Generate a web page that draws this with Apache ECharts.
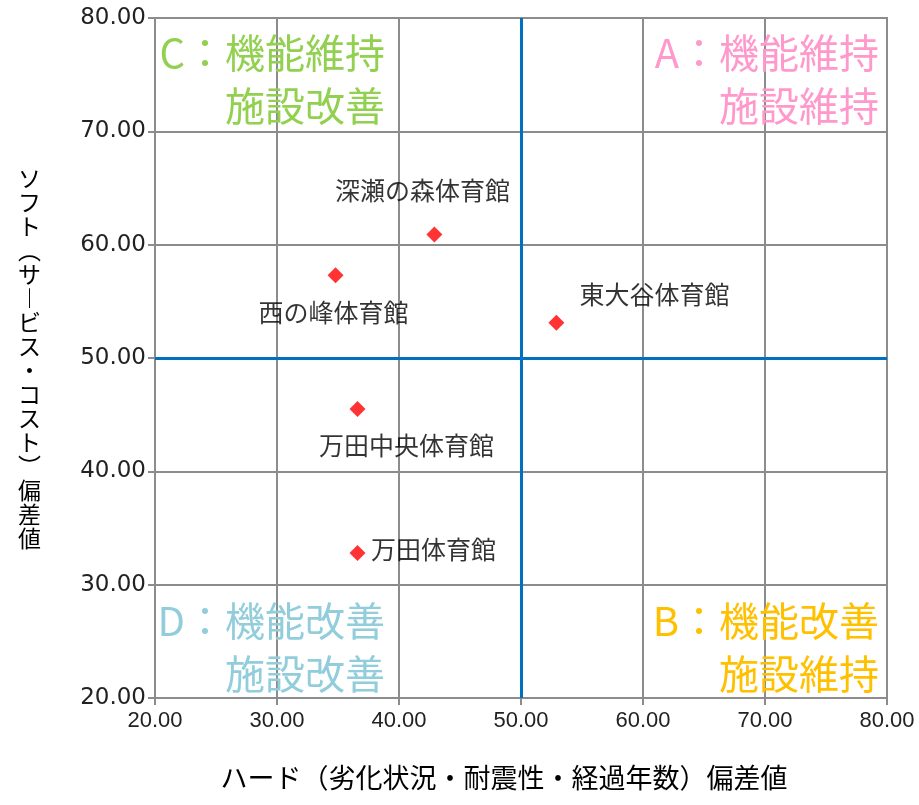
<!DOCTYPE html>
<html>
<head>
<meta charset="utf-8">
<script src="https://cdn.jsdelivr.net/npm/echarts@6/dist/echarts.min.js"></script>
<style>
html,body{margin:0;padding:0;background:#fff;}
#main{width:919px;height:805px;}
</style>
</head>
<body>
<div id="main"></div>
<script>
// Data
const facilities = ['深瀬の森体育館', '西の峰体育館', '東大谷体育館', '万田中央体育館', '万田体育館'];
const hardScores = [42.9, 34.8, 52.9, 36.6, 36.6];
const softScores = [60.9, 57.3, 53.1, 45.5, 32.8];
const axisMin = 20, axisMax = 80, axisStep = 10;
const threshold = 50;
const xAxisTitle = 'ハード（劣化状況・耐震性・経過年数）偏差値';
const yAxisTitle = ['ソ','フ','ト','︵','サ','︱','ビ','ス','・','コ','ス','ト','︶','偏','差','値'];
const quadrantA = ['A：機能維持', '施設維持'];
const quadrantB = ['B：機能改善', '施設維持'];
const quadrantC = ['C：機能維持', '施設改善'];
const quadrantD = ['D：機能改善', '施設改善'];

// label placement (styling)
const labelOffsets = [[-12, -44], [-2, 37], [98, -28], [49, 36], [76, -3]];

const points = facilities.map((n, i) => ({
  value: [hardScores[i], softScores[i]],
  name: n,
  label: { offset: labelOffsets[i] }
}));

const chart = echarts.init(document.getElementById('main'));
const gridColor = '#8c8c8c';
const qFont = '"Noto Sans CJK JP", sans-serif';

function quad(lines, xRight, yCenter, color) {
  return lines.map((t, i) => ({
    type: 'text', x: xRight, y: yCenter + i * 53, z: 10,
    style: {
      text: t, fill: color, font: '40px ' + qFont,
      align: 'right', verticalAlign: 'middle'
    }
  }));
}

chart.setOption({
  animation: false,
  backgroundColor: '#fff',
  grid: { left: 155, right: 32, top: 18, bottom: 107, show: true, borderColor: gridColor, borderWidth: 2 },
  xAxis: {
    type: 'value', min: axisMin, max: axisMax, interval: axisStep,
    name: xAxisTitle, nameLocation: 'middle', nameGap: 66,
    nameTextStyle: { fontSize: 27, color: '#000', fontFamily: qFont, padding: [0, 34, 0, 0] },
    axisLine: { show: true, lineStyle: { color: gridColor, width: 2 } },
    axisTick: { show: true, length: 7, lineStyle: { color: gridColor, width: 2 } },
    axisLabel: { formatter: v => v.toFixed(2), fontSize: 22, color: '#222', fontFamily: 'Liberation Sans', margin: 12 },
    splitLine: { show: true, lineStyle: { color: gridColor, width: 2 } }
  },
  yAxis: {
    type: 'value', min: axisMin, max: axisMax, interval: axisStep,
    name: yAxisTitle.join('\n'), nameLocation: 'middle', nameGap: 114, nameRotate: 0,
    nameTextStyle: { fontSize: 23, lineHeight: 24, color: '#000', fontFamily: qFont },
    axisLine: { show: true, lineStyle: { color: gridColor, width: 2 } },
    axisTick: { show: true, length: 7, lineStyle: { color: gridColor, width: 2 } },
    axisLabel: { formatter: v => v.toFixed(2), fontSize: 23, color: '#222', fontFamily: 'DejaVu Sans', margin: 9 },
    splitLine: { show: true, lineStyle: { color: gridColor, width: 2 } }
  },
  graphic: [].concat(
    quad(quadrantC, 385, 53, '#92D050'),
    quad(quadrantA, 879, 53, '#FF99CC'),
    quad(quadrantD, 385, 621, '#92CDDC'),
    quad(quadrantB, 879, 621, '#FFC000')
  ),
  series: [{
    type: 'scatter',
    symbol: 'diamond',
    symbolSize: 16,
    itemStyle: { color: '#FF0000' },
    data: points,
    label: {
      show: true, position: 'inside', formatter: p => p.name,
      fontSize: 25, color: '#000', fontFamily: qFont, align: 'center', verticalAlign: 'middle'
    },
    markLine: {
      silent: true, symbol: 'none', animation: false,
      label: { show: false },
      lineStyle: { color: '#0070C0', width: 3, type: 'solid' },
      data: [{ xAxis: threshold }, { yAxis: threshold }]
    },
    z: 5
  }]
});
</script>
</body>
</html>
